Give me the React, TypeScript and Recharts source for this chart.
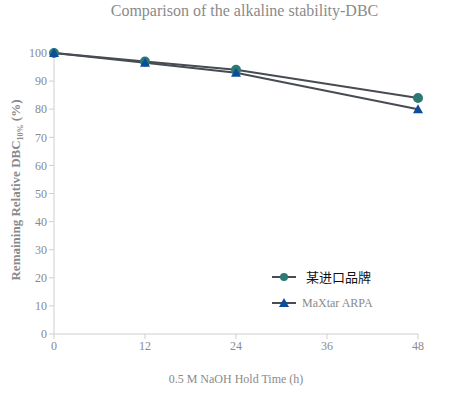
import { LineChart, Line, XAxis, YAxis } from "recharts";

const hours = [0, 12, 24, 36, 48];
const importedBrand = [100, 97, 94, null, 84];
const maxtarArpa = [100, 96.5, 93, null, 80];
const yTicks = [0, 10, 20, 30, 40, 50, 60, 70, 80, 90, 100];

const data = hours
  .map((h, i) => ({ h, a: importedBrand[i], b: maxtarArpa[i] }))
  .filter((d) => d.a !== null);

const LINE = "#474c52";
const TEAL = "#2b7a73";
const BLUE = "#0b4d9c";
const GREY = "#8a8a8a";
const SERIF = "Liberation Serif, DejaVu Serif, serif";

const Triangle = (props: any) => {
  const { cx, cy } = props;
  if (cx == null || cy == null) return null;
  return <path d={`M${cx},${cy - 5} L${cx + 5},${cy + 4} L${cx - 5},${cy + 4} Z`} fill={BLUE} />;
};

const YLabel = () => (
  <text
    x={0}
    y={0}
    transform="translate(20,190) rotate(-90)"
    textAnchor="middle"
    fill={GREY}
    fontFamily={SERIF}
    fontSize={13}
    fontWeight="bold"
  >
    Remaining Relative DBC
    <tspan fontSize={8} dy={3}>10%</tspan>
    <tspan dy={-3}> (%)</tspan>
  </text>
);

export default function App() {
  return (
    <div style={{ position: "absolute", left: 0, top: 0, width: 449, height: 393, background: "#fff" }}>
      <div
        style={{
          position: "absolute",
          top: 2,
          left: 0,
          width: 449,
          textAlign: "center",
          paddingLeft: 40,
          boxSizing: "border-box",
          fontFamily: SERIF,
          fontSize: 16,
          color: GREY,
        }}
      >
        Comparison of the alkaline stability-DBC
      </div>
      <LineChart
        width={449}
        height={393}
        data={data}
        margin={{ top: 53, right: 31, bottom: 29, left: 14 }}
      >
        <XAxis
          dataKey="h"
          type="number"
          domain={[0, 48]}
          ticks={hours}
          stroke="#cfcfcf"
          tick={{ fill: GREY, fontSize: 12, fontFamily: SERIF }}
          tickSize={5}
          height={30}
          label={{
            value: "0.5 M NaOH Hold Time (h)",
            position: "insideBottom",
            offset: -19,
            fill: GREY,
            fontSize: 12,
            fontFamily: SERIF,
          }}
        />
        <YAxis
          type="number"
          domain={[0, 100]}
          ticks={yTicks}
          stroke="#cfcfcf"
          tick={{ fill: GREY, fontSize: 12, fontFamily: SERIF }}
          tickSize={5}
          width={40}
          interval={0}
          label={<YLabel />}
        />
        <Line
          dataKey="a"
          stroke={LINE}
          strokeWidth={2}
          isAnimationActive={false}
          dot={{ r: 4, fill: TEAL, stroke: TEAL }}
        />
        <Line
          dataKey="b"
          stroke={LINE}
          strokeWidth={2}
          isAnimationActive={false}
          dot={<Triangle />}
        />
      </LineChart>
      <svg style={{ position: "absolute", left: 270, top: 267 }} width={170} height={60}>
        <line x1={2} y1={10} x2={26} y2={10} stroke={LINE} strokeWidth={2} />
        <circle cx={14} cy={10} r={4} fill={TEAL} />
        <text x={36} y={15} fontSize={13} fill="#111" fontFamily="Noto Sans CJK SC, sans-serif">
          某进口品牌
        </text>
        <line x1={2} y1={36} x2={26} y2={36} stroke={LINE} strokeWidth={2} />
        <path d="M14,31 L19,40 L9,40 Z" fill={BLUE} />
        <text x={32} y={40} fontSize={12} fill={GREY} fontFamily={SERIF}>
          MaXtar ARPA
        </text>
      </svg>
    </div>
  );
}
